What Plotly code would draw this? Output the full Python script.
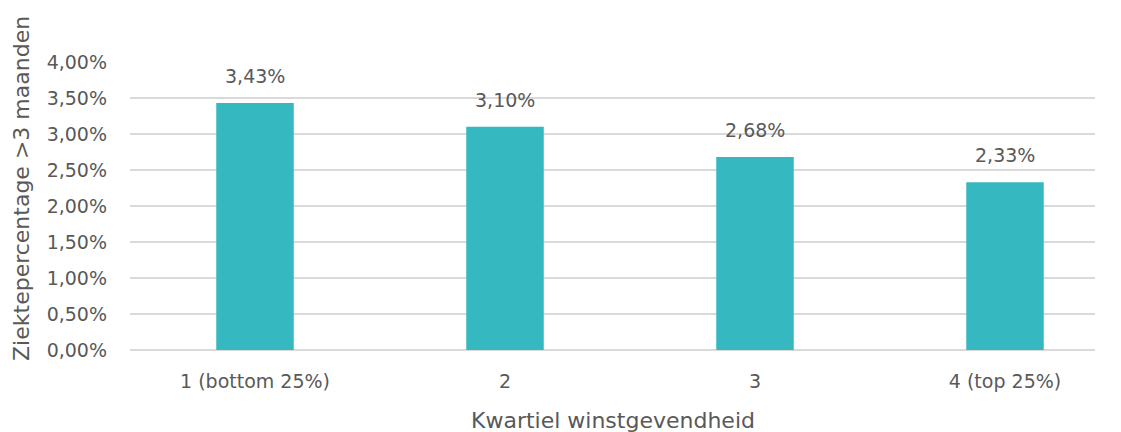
import plotly.graph_objects as go

categories = ["1 (bottom 25%)", "2", "3", "4 (top 25%)"]
values = [0.0343, 0.0310, 0.0268, 0.0233]
y_ticks = [0, 0.005, 0.01, 0.015, 0.02, 0.025, 0.03, 0.035, 0.04]
x_title = "Kwartiel winstgevendheid"
y_title = "Ziektepercentage >3 maanden"

FONT = "DejaVu Sans"
GREY = "#595959"

fig = go.Figure()
fig.add_trace(go.Bar(
    x=list(range(len(categories))),
    y=values,
    width=0.31,
    marker=dict(color="#35B8C0", line=dict(width=0)),
    hoverinfo="skip",
))

for i, v in enumerate(values):
    fig.add_annotation(
        x=i, y=v, text=f"{v*100:.2f}%".replace(".", ","),
        showarrow=False, yanchor="bottom", yshift=14,
        font=dict(family=FONT, size=19, color=GREY),
    )

fig.add_annotation(
    xref="paper", yref="paper", x=0.5, y=-0.245, text=x_title,
    showarrow=False, xanchor="center", yanchor="middle",
    font=dict(family=FONT, size=22, color=GREY),
)
fig.add_annotation(
    xref="paper", yref="paper", x=-0.113, y=0.5625, text=y_title,
    showarrow=False, xanchor="center", yanchor="middle", textangle=-90,
    font=dict(family=FONT, size=22, color=GREY),
)

fig.update_layout(
    width=1113, height=424,
    margin=dict(l=122, r=26, t=54, b=82),
    paper_bgcolor="white", plot_bgcolor="white",
    separators=",.",
    showlegend=False,
    font=dict(family=FONT, size=19, color=GREY),
    xaxis=dict(
        tickmode="array", tickvals=list(range(len(categories))), ticktext=categories,
        range=[-0.5, 3.36], showgrid=False, zeroline=False, showline=False,
        ticks="", ticklabelstandoff=18,
        tickfont=dict(size=19, color=GREY),
    ),
    yaxis=dict(
        range=[0, 0.04], tickmode="array", tickvals=y_ticks, tickformat=".2%",
        showgrid=True, gridcolor="#D9D9D9", gridwidth=1.5,
        zeroline=True, zerolinecolor="#D9D9D9", zerolinewidth=1.5,
        showline=False, ticks="", ticklabelstandoff=22,
        tickfont=dict(size=19, color=GREY),
    ),
)

fig.write_html("out.html")
